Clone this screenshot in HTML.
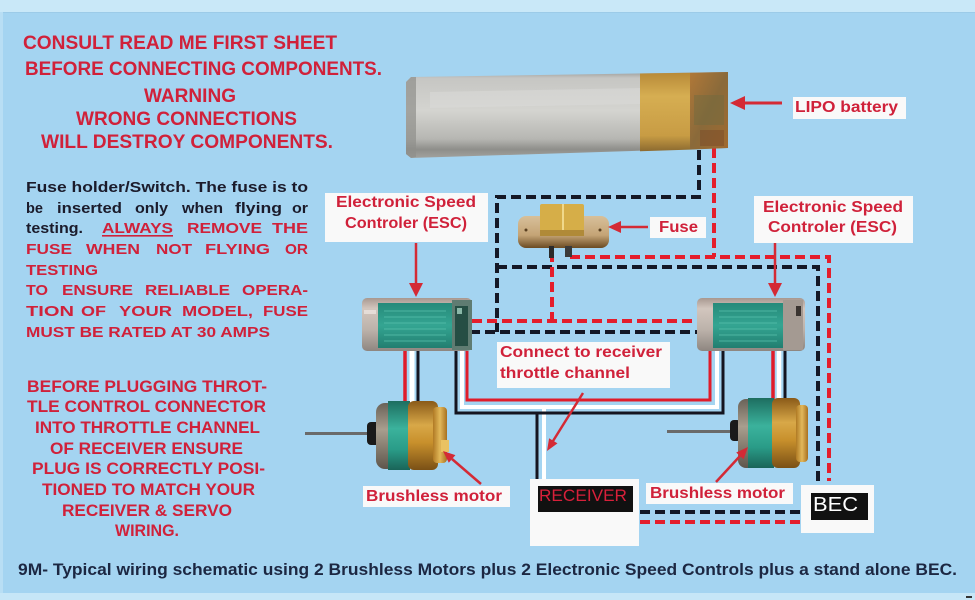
<!DOCTYPE html>
<html>
<head>
<meta charset="utf-8">
<style>
  html,body{margin:0;padding:0;background:#a4d4f1;}
  svg{display:block;}
  .r{fill:#d0213a;font-weight:bold;}
  .k{fill:#1b1b2b;font-weight:bold;}
</style>
</head>
<body>
<svg width="975" height="600" viewBox="0 0 975 600" xmlns="http://www.w3.org/2000/svg" font-family="'Liberation Sans', Arial, sans-serif">
<defs>
  <linearGradient id="silver" x1="0" y1="0" x2="0" y2="1">
    <stop offset="0" stop-color="#9e9e9c"/>
    <stop offset="0.07" stop-color="#c6c6c3"/>
    <stop offset="0.45" stop-color="#d4d4d0"/>
    <stop offset="0.78" stop-color="#b6b6b2"/>
    <stop offset="0.9" stop-color="#8e8e8a"/>
    <stop offset="1" stop-color="#a2a29e"/>
  </linearGradient>
  <linearGradient id="tape" x1="0" y1="0" x2="0" y2="1">
    <stop offset="0" stop-color="#b88a38"/>
    <stop offset="0.3" stop-color="#d6ae52"/>
    <stop offset="0.8" stop-color="#c89c44"/>
    <stop offset="1" stop-color="#8c6a30"/>
  </linearGradient>
  <linearGradient id="bend" x1="0" y1="0" x2="1" y2="1">
    <stop offset="0" stop-color="#b07838"/>
    <stop offset="0.5" stop-color="#8a6a3a"/>
    <stop offset="1" stop-color="#a06a30"/>
  </linearGradient>
  <linearGradient id="esc" x1="0" y1="0" x2="0" y2="1">
    <stop offset="0" stop-color="#a89890"/>
    <stop offset="0.2" stop-color="#d2c6be"/>
    <stop offset="0.6" stop-color="#bcb2aa"/>
    <stop offset="1" stop-color="#8e8680"/>
  </linearGradient>
  <linearGradient id="escg" x1="0" y1="0" x2="0" y2="1">
    <stop offset="0" stop-color="#268a7a"/>
    <stop offset="0.5" stop-color="#34a592"/>
    <stop offset="1" stop-color="#227e70"/>
  </linearGradient>
  <linearGradient id="mgold" x1="0" y1="0" x2="0" y2="1">
    <stop offset="0" stop-color="#8a5a18"/>
    <stop offset="0.35" stop-color="#d8a848"/>
    <stop offset="0.6" stop-color="#c8902c"/>
    <stop offset="1" stop-color="#7a5016"/>
  </linearGradient>
  <linearGradient id="mgold2" x1="0" y1="0" x2="1" y2="0">
    <stop offset="0" stop-color="#b07a24"/>
    <stop offset="0.5" stop-color="#e2b85a"/>
    <stop offset="1" stop-color="#a87020"/>
  </linearGradient>
  <linearGradient id="mgreen" x1="0" y1="0" x2="0" y2="1">
    <stop offset="0" stop-color="#1d6e60"/>
    <stop offset="0.4" stop-color="#3bb29c"/>
    <stop offset="0.7" stop-color="#2a9c88"/>
    <stop offset="1" stop-color="#1a6458"/>
  </linearGradient>
  <linearGradient id="mrim" x1="0" y1="0" x2="0" y2="1">
    <stop offset="0" stop-color="#6a6258"/>
    <stop offset="0.4" stop-color="#a89e8e"/>
    <stop offset="1" stop-color="#5e564c"/>
  </linearGradient>
  <linearGradient id="fuseb" x1="0" y1="0" x2="0" y2="1">
    <stop offset="0" stop-color="#d8c09a"/>
    <stop offset="0.6" stop-color="#c4a476"/>
    <stop offset="1" stop-color="#6a4a22"/>
  </linearGradient>
</defs>

<!-- background -->
<rect x="0" y="0" width="975" height="600" fill="#a4d4f1"/>
<rect x="0" y="0" width="975" height="12" fill="#c9e8f8"/>
<rect x="0" y="12" width="975" height="1" fill="#9ccbe8"/>
<rect x="0" y="593" width="975" height="7" fill="#c6e6f7"/>
<rect x="0" y="12" width="3" height="581" fill="#b8def4"/>
<rect x="966" y="596" width="6" height="2" fill="#333"/>

<!-- Warning text -->
<g class="r" font-size="19">
  <text class="r" x="23" y="49" textLength="314" lengthAdjust="spacingAndGlyphs">CONSULT READ ME FIRST SHEET</text>
  <text class="r" x="25" y="75" textLength="357" lengthAdjust="spacingAndGlyphs">BEFORE CONNECTING COMPONENTS.</text>
  <text class="r" x="144" y="102" textLength="92" lengthAdjust="spacingAndGlyphs">WARNING</text>
  <text class="r" x="76" y="125" textLength="221" lengthAdjust="spacingAndGlyphs">WRONG CONNECTIONS</text>
  <text class="r" x="41" y="148" textLength="292" lengthAdjust="spacingAndGlyphs">WILL DESTROY COMPONENTS.</text>
</g>

<!-- Fuse paragraph -->
<g font-size="15">
  <text class="k" x="26" y="192" textLength="282" lengthAdjust="spacingAndGlyphs">Fuse holder/Switch. The fuse is to</text>

  <text class="k" x="26" y="213" textLength="17" lengthAdjust="spacingAndGlyphs">be</text>
  <text class="k" x="57" y="213" textLength="65" lengthAdjust="spacingAndGlyphs">inserted</text>
  <text class="k" x="135" y="213" textLength="33" lengthAdjust="spacingAndGlyphs">only</text>
  <text class="k" x="182" y="213" textLength="41" lengthAdjust="spacingAndGlyphs">when</text>
  <text class="k" x="235" y="213" textLength="47" lengthAdjust="spacingAndGlyphs">flying</text>
  <text class="k" x="292" y="213" textLength="16" lengthAdjust="spacingAndGlyphs">or</text>

  <text class="k" x="26" y="233" textLength="57" lengthAdjust="spacingAndGlyphs">testing.</text>
  <text class="r" x="102" y="233" textLength="71" lengthAdjust="spacingAndGlyphs">ALWAYS</text>
  <rect x="102" y="235" width="71" height="1.6" fill="#d0213a"/>
  <text class="r" x="187" y="233" textLength="75" lengthAdjust="spacingAndGlyphs">REMOVE</text>
  <text class="r" x="272" y="233" textLength="36" lengthAdjust="spacingAndGlyphs">THE</text>

  <text class="r" x="26" y="254" textLength="46" lengthAdjust="spacingAndGlyphs">FUSE</text>
  <text class="r" x="86" y="254" textLength="54" lengthAdjust="spacingAndGlyphs">WHEN</text>
  <text class="r" x="156" y="254" textLength="36" lengthAdjust="spacingAndGlyphs">NOT</text>
  <text class="r" x="205" y="254" textLength="65" lengthAdjust="spacingAndGlyphs">FLYING</text>
  <text class="r" x="285" y="254" textLength="23" lengthAdjust="spacingAndGlyphs">OR</text>

  <text class="r" x="26" y="275" textLength="72" lengthAdjust="spacingAndGlyphs">TESTING</text>

  <text class="r" x="26" y="295" textLength="22" lengthAdjust="spacingAndGlyphs">TO</text>
  <text class="r" x="62" y="295" textLength="71" lengthAdjust="spacingAndGlyphs">ENSURE</text>
  <text class="r" x="145" y="295" textLength="85" lengthAdjust="spacingAndGlyphs">RELIABLE</text>
  <text class="r" x="242" y="295" textLength="66" lengthAdjust="spacingAndGlyphs">OPERA-</text>

  <text class="r" x="26" y="316" textLength="48" lengthAdjust="spacingAndGlyphs">TION</text>
  <text class="r" x="81" y="316" textLength="25" lengthAdjust="spacingAndGlyphs">OF</text>
  <text class="r" x="119" y="316" textLength="53" lengthAdjust="spacingAndGlyphs">YOUR</text>
  <text class="r" x="182" y="316" textLength="71" lengthAdjust="spacingAndGlyphs">MODEL,</text>
  <text class="r" x="263" y="316" textLength="45" lengthAdjust="spacingAndGlyphs">FUSE</text>

  <text class="r" x="26" y="337" textLength="244" lengthAdjust="spacingAndGlyphs">MUST BE RATED AT 30 AMPS</text>
</g>

<!-- Bottom-left block -->
<g font-size="16.5">
  <text class="r" x="27" y="392" textLength="240" lengthAdjust="spacingAndGlyphs">BEFORE PLUGGING THROT-</text>
  <text class="r" x="27" y="412" textLength="239" lengthAdjust="spacingAndGlyphs">TLE CONTROL CONNECTOR</text>
  <text class="r" x="35" y="433" textLength="225" lengthAdjust="spacingAndGlyphs">INTO THROTTLE CHANNEL</text>
  <text class="r" x="50" y="454" textLength="193" lengthAdjust="spacingAndGlyphs">OF RECEIVER ENSURE</text>
  <text class="r" x="32" y="474" textLength="233" lengthAdjust="spacingAndGlyphs">PLUG IS CORRECTLY POSI-</text>
  <text class="r" x="42" y="495" textLength="213" lengthAdjust="spacingAndGlyphs">TIONED TO MATCH YOUR</text>
  <text class="r" x="62" y="516" textLength="170" lengthAdjust="spacingAndGlyphs">RECEIVER &amp; SERVO</text>
  <text class="r" x="115" y="536" textLength="64" lengthAdjust="spacingAndGlyphs">WIRING.</text>
</g>

<!-- Caption -->
<text x="18" y="575" font-size="17" font-weight="bold" fill="#1c2742" textLength="939" lengthAdjust="spacingAndGlyphs">9M-  Typical wiring schematic using 2 Brushless Motors plus 2 Electronic Speed Controls plus a stand alone BEC.</text>

<!-- Dashed wires -->
<g fill="none" stroke-width="4" stroke-dasharray="10 5" stroke-linejoin="miter">
  <path d="M699,150 V197 H497 V332" stroke="#141826"/>
  <path d="M470,332 H700" stroke="#141826"/>
  <path d="M497,267 H818 V484" stroke="#141826"/>
  <path d="M714,148 V257" stroke="#e41e2c"/>
  <path d="M570,257 H829 V481" stroke="#e41e2c"/>
  <path d="M552,252 V321" stroke="#e41e2c"/>
  <path d="M472,321 H698" stroke="#e41e2c"/>
  <path d="M640,512 H800" stroke="#141826"/>
  <path d="M640,522 H800" stroke="#e41e2c"/>
</g>

<!-- Solid signal wires -->
<g fill="none" stroke-width="3">
  <path d="M544,407 V480" stroke="#ffffff" stroke-width="4"/>
  <path d="M462,351 V407 H717 V351" stroke="#ffffff" stroke-width="4"/>
  <path d="M456,351 V413 H723 V351" stroke="#141420"/>
  <path d="M537,413 V480" stroke="#141420"/>
  <path d="M467,351 V400 H710 V351" stroke="#e01c2a"/>
  <path d="M405,350 V403" stroke="#e01c2a" stroke-width="3.5"/>
  <path d="M412,350 V403" stroke="#ffffff" stroke-width="5"/>
  <path d="M418,350 V403" stroke="#141420"/>
  <path d="M773,350 V400" stroke="#e01c2a" stroke-width="3.5"/>
  <path d="M779,350 V400" stroke="#ffffff" stroke-width="4.5"/>
  <path d="M785,350 V400" stroke="#141420"/>
</g>

<!-- Battery -->
<g>
  <polygon points="406,82 411,77 728,72 728,148 411,158 406,154" fill="url(#silver)"/>
  <polygon points="406,82 411,77 416,77 416,157 411,158 406,154" fill="#8e8e8a" opacity="0.7"/>
  <polygon points="430,92 640,88 640,104 430,108" fill="#dcdcda" opacity="0.5"/>
  <polygon points="640,73.5 690,72.7 690,149.6 640,151.2" fill="url(#tape)"/>
  <polygon points="690,72.7 728,72 728,148 690,149.6" fill="url(#bend)"/>
  <rect x="694" y="95" width="30" height="30" fill="#6e6a40" opacity="0.45"/>
  <rect x="700" y="130" width="24" height="16" fill="#7a4a28" opacity="0.5"/>
</g>

<!-- Fuse -->
<g>
  <rect x="518" y="216" width="91" height="32" rx="8" fill="url(#fuseb)"/>
  <rect x="540" y="204" width="44" height="32" rx="2" fill="#d6ae48"/>
  <rect x="562" y="204" width="2" height="32" fill="#f0d88a"/>
  <rect x="540" y="230" width="44" height="6" fill="#b08a38"/>
  <circle cx="526" cy="230" r="1.5" fill="#5a4020"/>
  <circle cx="600" cy="230" r="1.5" fill="#5a4020"/>
  <rect x="549" y="246" width="5" height="12" fill="#2a2a2a"/>
  <rect x="565" y="246" width="7" height="11" fill="#3a3a3a"/>
</g>

<!-- ESC left -->
<g>
  <rect x="362" y="298" width="110" height="53" rx="5" fill="url(#esc)"/>
  <rect x="364" y="310" width="12" height="4" fill="#f0e8e4" opacity="0.7"/>
  <rect x="378" y="303" width="74" height="45" fill="url(#escg)"/>
  <g stroke="#5cc4b0" stroke-width="1" opacity="0.7">
    <line x1="384" y1="311" x2="446" y2="311"/><line x1="384" y1="317" x2="446" y2="317"/>
    <line x1="384" y1="323" x2="446" y2="323"/><line x1="384" y1="329" x2="446" y2="329"/>
    <line x1="384" y1="335" x2="446" y2="335"/><line x1="384" y1="341" x2="446" y2="341"/>
  </g>
  <rect x="452" y="300" width="20" height="50" fill="#5f7c72"/>
  <rect x="455" y="306" width="13" height="40" fill="#254e44"/>
  <rect x="457" y="308" width="5" height="6" fill="#8ab8a8"/>
</g>

<!-- ESC right -->
<g>
  <rect x="697" y="298" width="108" height="53" rx="5" fill="url(#esc)"/>
  <rect x="713" y="303" width="70" height="45" fill="url(#escg)"/>
  <g stroke="#5cc4b0" stroke-width="1" opacity="0.7">
    <line x1="719" y1="311" x2="777" y2="311"/><line x1="719" y1="317" x2="777" y2="317"/>
    <line x1="719" y1="323" x2="777" y2="323"/><line x1="719" y1="329" x2="777" y2="329"/>
    <line x1="719" y1="335" x2="777" y2="335"/><line x1="719" y1="341" x2="777" y2="341"/>
  </g>
  <rect x="783" y="300" width="20" height="50" fill="#a49a92"/>
  <rect x="796" y="306" width="5" height="10" fill="#3a3430"/>
</g>

<!-- Motor left -->
<g>
  <rect x="305" y="432" width="68" height="3" fill="#6a6a6a"/>
  <rect x="367" y="422" width="13" height="23" rx="4" fill="#1a1a1a"/>
  <rect x="376" y="403" width="20" height="66" rx="9" fill="url(#mrim)"/>
  <rect x="388" y="401" width="22" height="69" fill="url(#mgreen)"/>
  <rect x="408" y="401" width="30" height="69" rx="6" fill="url(#mgold)"/>
  <rect x="433" y="407" width="14" height="56" rx="4" fill="url(#mgold2)"/>
  <rect x="441" y="440" width="8" height="12" fill="#eac262"/>
</g>

<!-- Motor right -->
<g>
  <rect x="667" y="430" width="68" height="3" fill="#6a6a6a"/>
  <rect x="730" y="420" width="11" height="21" rx="4" fill="#1a1a1a"/>
  <rect x="738" y="399" width="18" height="69" rx="8" fill="url(#mrim)"/>
  <rect x="748" y="398" width="26" height="70" fill="url(#mgreen)"/>
  <rect x="772" y="398" width="28" height="70" rx="6" fill="url(#mgold)"/>
  <rect x="796" y="405" width="12" height="57" rx="4" fill="url(#mgold2)"/>
</g>

<!-- White label boxes -->
<g fill="#f9f9f9">
  <rect x="793" y="97" width="113" height="22"/>
  <rect x="325" y="193" width="163" height="49"/>
  <rect x="754" y="196" width="159" height="47"/>
  <rect x="650" y="217" width="56" height="21"/>
  <rect x="497" y="342" width="173" height="46"/>
  <rect x="363" y="486" width="147" height="21"/>
  <rect x="646" y="483" width="147" height="21"/>
  <rect x="530" y="479" width="109" height="67"/>
  <rect x="801" y="485" width="73" height="48"/>
</g>
<rect x="538" y="486" width="95" height="26" fill="#111"/>
<rect x="811" y="493" width="57" height="27" fill="#111"/>

<!-- Labels -->
<g font-size="16">
  <text class="r" x="795" y="112" textLength="103" lengthAdjust="spacingAndGlyphs">LIPO battery</text>
  <text class="r" x="336" y="207" textLength="140" lengthAdjust="spacingAndGlyphs">Electronic Speed</text>
  <text class="r" x="345" y="228" textLength="122" lengthAdjust="spacingAndGlyphs">Controler (ESC)</text>
  <text class="r" x="763" y="212" textLength="140" lengthAdjust="spacingAndGlyphs">Electronic Speed</text>
  <text class="r" x="768" y="232" textLength="129" lengthAdjust="spacingAndGlyphs">Controler (ESC)</text>
  <text class="r" x="659" y="232" textLength="39" lengthAdjust="spacingAndGlyphs">Fuse</text>
  <text class="r" x="500" y="357" textLength="162" lengthAdjust="spacingAndGlyphs">Connect to receiver</text>
  <text class="r" x="500" y="378" textLength="130" lengthAdjust="spacingAndGlyphs">throttle channel</text>
  <text class="r" x="366" y="501" textLength="136" lengthAdjust="spacingAndGlyphs">Brushless motor</text>
  <text class="r" x="650" y="498" textLength="135" lengthAdjust="spacingAndGlyphs">Brushless motor</text>
</g>
<text x="539" y="501" font-size="17" fill="#d8203a" textLength="88" lengthAdjust="spacingAndGlyphs">RECEIVER</text>
<text x="813" y="511" font-size="20" fill="#ffffff" textLength="45" lengthAdjust="spacingAndGlyphs">BEC</text>

<!-- Arrows -->
<g stroke="#d42a35" stroke-width="2.5" fill="none">
  <line x1="782" y1="103" x2="742" y2="103" stroke-width="3"/>
  <line x1="648" y1="227" x2="618" y2="227"/>
  <line x1="416" y1="243" x2="416" y2="285"/>
  <line x1="775" y1="243" x2="775" y2="285"/>
  <line x1="583" y1="393" x2="553" y2="441"/>
  <line x1="481" y1="484" x2="452" y2="459"/>
  <line x1="716" y1="482" x2="740" y2="456"/>
</g>
<g fill="#d42a35">
  <polygon points="730,103 745,96 745,110"/>
  <polygon points="608,227 621,221 621,233"/>
  <polygon points="409,283 423,283 416,297"/>
  <polygon points="768,283 782,283 775,297"/>
  <polygon points="547,451 557.5,443.4 549.1,438.2"/>
  <polygon points="443,451 455.4,455.1 448.8,462.7"/>
  <polygon points="748,447 743.6,459.3 736.2,452.5"/>
</g>
</svg>
</body>
</html>
